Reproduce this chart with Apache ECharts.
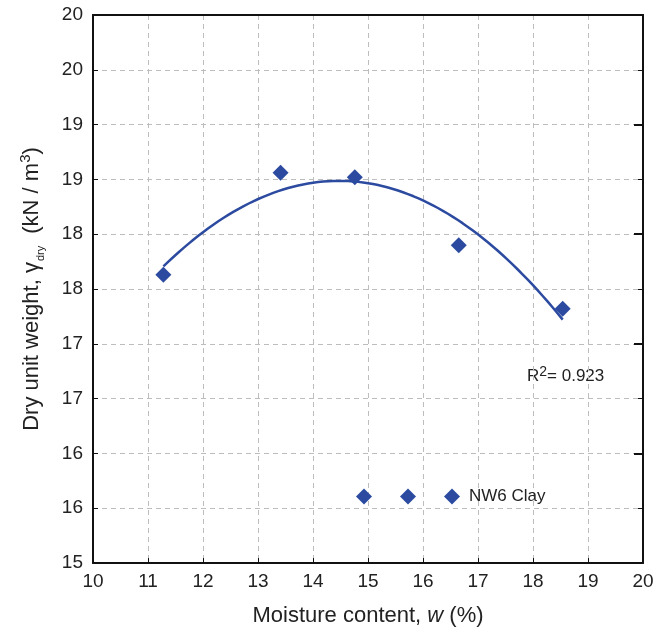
<!DOCTYPE html>
<html><head><meta charset="utf-8">
<script src="https://cdn.jsdelivr.net/npm/echarts@6/dist/echarts.min.js"></script>
<style>html,body{margin:0;padding:0;background:#fff}#c{width:670px;height:632px}</style>
</head><body><div id="c"></div>
<script>
// ---- data ----
const moisture = [11.28, 13.41, 14.76, 16.65, 18.54];
const dryUnitWeight = [17.63, 18.56, 18.52, 17.90, 17.32];
const xTickLabels = ['10','11','12','13','14','15','16','17','18','19','20'];
const yTickLabels = ['15','16','16','17','17','18','18','19','19','20','20'];
const seriesName = 'NW6 Clay';
const r2Value = '0.923';

// ---- second-order polynomial trendline (least squares from the data) ----
function quadFit(xs, ys) {
  let S = [0,0,0,0,0], T = [0,0,0];
  for (let i = 0; i < xs.length; i++) {
    let p = 1;
    for (let k = 0; k < 5; k++) { S[k] += p; if (k < 3) T[k] += p * ys[i]; p *= xs[i]; }
  }
  const A = [[S[0],S[1],S[2],T[0]],[S[1],S[2],S[3],T[1]],[S[2],S[3],S[4],T[2]]];
  for (let c = 0; c < 3; c++) {
    let m = c; for (let r = c+1; r < 3; r++) if (Math.abs(A[r][c]) > Math.abs(A[m][c])) m = r;
    [A[c], A[m]] = [A[m], A[c]];
    for (let r = 0; r < 3; r++) if (r !== c) {
      const f = A[r][c] / A[c][c];
      for (let k = c; k < 4; k++) A[r][k] -= f * A[c][k];
    }
  }
  return [A[0][3]/A[0][0], A[1][3]/A[1][1], A[2][3]/A[2][2]];
}
const coef = quadFit(moisture, dryUnitWeight);
const xMin = Math.min(...moisture), xMax = Math.max(...moisture);
const trend = [];
for (let i = 0; i <= 80; i++) {
  const x = xMin + (xMax - xMin) * i / 80;
  trend.push([x, coef[0] + coef[1]*x + coef[2]*x*x]);
}

const FONT = "'Liberation Sans', Arial, sans-serif";
const BLUE = '#2C4BA0';
const TXT = '#222';
const diamonds3 = 'path://M8,0L16,8L8,16L0,8Z M52,0L60,8L52,16L44,8Z M96,0L104,8L96,16L88,8Z';

const chart = echarts.init(document.getElementById('c'), null, {renderer: 'canvas'});
chart.setOption({
  animation: false,
  backgroundColor: '#fff',
  grid: {left: 93, right: 27, top: 15, bottom: 66, containLabel: false},
  xAxis: [{
    type: 'value', min: 10, max: 20, interval: 1, position: 'bottom',
    name: 'Moisture content, {i|w} (%)', nameLocation: 'middle', nameGap: 42,
    nameTextStyle: {fontFamily: FONT, fontSize: 22, color: TXT,
      rich: {i: {fontFamily: FONT, fontSize: 22, fontStyle: 'italic', color: TXT}}},
    axisLine: {show: true, onZero: false, lineStyle: {color: '#111', width: 2}},
    axisTick: {show: true, inside: true, length: 5, lineStyle: {color: '#111', width: 1}},
    axisLabel: {fontFamily: FONT, fontSize: 19, color: TXT, margin: 9,
      formatter: v => xTickLabels[Math.round(v - 10)]},
    splitLine: {show: true, lineStyle: {color: '#bdbdbd', type: [5, 4], width: 1}}
  }, {
    type: 'value', min: 10, max: 20, interval: 1, position: 'top',
    axisLine: {show: true, onZero: false, lineStyle: {color: '#111', width: 2}},
    axisTick: {show: false}, axisLabel: {show: false}, splitLine: {show: false}
  }],
  yAxis: [{
    type: 'value', min: 15, max: 20, interval: 0.5, position: 'left',
    name: 'Dry unit weight, γ{sub|dry} (kN / m{sup|3})', nameLocation: 'middle', nameGap: 47,
    nameTextStyle: {fontFamily: FONT, fontSize: 22, color: TXT, lineHeight: 28,
      rich: {
        sub: {fontFamily: FONT, fontSize: 11, color: TXT, verticalAlign: 'bottom', padding: [0, 6, 0, 1]},
        sup: {fontFamily: FONT, fontSize: 15, color: TXT, verticalAlign: 'top'}
      }},
    axisLine: {show: true, onZero: false, lineStyle: {color: '#111', width: 2}},
    axisTick: {show: true, inside: true, length: 5, lineStyle: {color: '#111', width: 1}},
    axisLabel: {fontFamily: FONT, fontSize: 19, color: TXT, margin: 10,
      formatter: v => yTickLabels[Math.round((v - 15) / 0.5)]},
    splitLine: {show: true, lineStyle: {color: '#bdbdbd', type: [5, 4], width: 1}}
  }, {
    type: 'value', min: 15, max: 20, interval: 1, position: 'right',
    axisLine: {show: true, onZero: false, lineStyle: {color: '#111', width: 2}},
    axisTick: {show: true, inside: true, length: 9, lineStyle: {color: '#111', width: 2}},
    minorTick: {show: true, splitNumber: 2, length: 5, lineStyle: {color: '#111', width: 1}},
    axisLabel: {show: false}, splitLine: {show: false}
  }],
  legend: {
    data: [{name: seriesName, icon: diamonds3}],
    left: 356, top: 488, padding: 0, itemWidth: 104, itemHeight: 16,
    selectedMode: false,
    textStyle: {fontFamily: FONT, fontSize: 17, color: TXT, padding: [0, 0, 0, 4]}
  },
  series: [{
    name: 'trend', type: 'line', data: trend, showSymbol: false, symbol: 'none',
    smooth: false, lineStyle: {color: BLUE, width: 2.5}, z: 2, silent: true
  }, {
    name: seriesName, type: 'scatter', symbol: 'diamond', symbolSize: 16,
    itemStyle: {color: BLUE, opacity: 1},
    data: moisture.map((x, i) => [x, dryUnitWeight[i]]), z: 3
  }],
  graphic: [{
    type: 'text', left: 527, top: 365,
    style: {
      text: '{n|R}{s|2}{n|= ' + r2Value + '}',
      rich: {
        n: {fontFamily: FONT, fontSize: 17, fill: TXT, lineHeight: 22},
        s: {fontFamily: FONT, fontSize: 14, fill: TXT, verticalAlign: 'top'}
      }
    }
  }]
});
</script>
</body></html>
